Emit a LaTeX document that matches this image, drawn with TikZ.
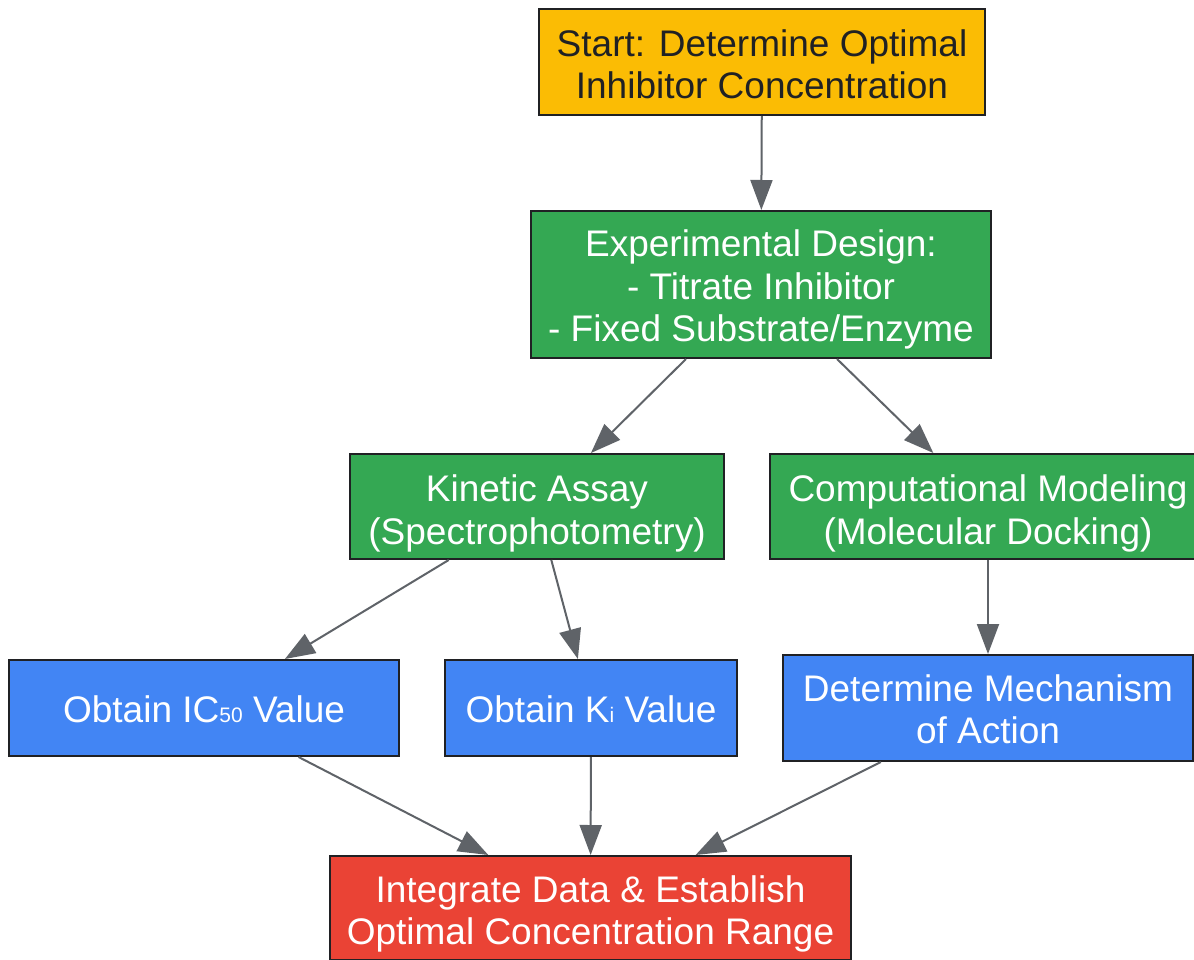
\documentclass[tikz,border=0pt]{standalone}
\usepackage{fontspec}
\setmainfont{Liberation Sans}
\usetikzlibrary{arrows.meta}
\definecolor{gyellow}{HTML}{FBBC04}
\definecolor{ggreen}{HTML}{34A853}
\definecolor{gblue}{HTML}{4285F4}
\definecolor{gred}{HTML}{EA4335}
\definecolor{gedge}{HTML}{5F6368}
\definecolor{gdark}{HTML}{202124}
\newcommand{\subtxt}[1]{{\fontsize{21}{21}\selectfont #1}}
\newcommand{\lowtxt}[2]{\raisebox{-#1}[\height][\depth]{\begin{tabular}{@{}c@{}}#2\end{tabular}}}
\begin{document}
\begin{tikzpicture}[x=1pt,y=-1pt,
  box/.style={draw=gdark, line width=2pt, inner sep=0pt, align=center,
    font=\fontsize{37}{42.5}\selectfont, text=white},
  edge/.style={draw=gedge, line width=2pt, -{Triangle[length=30pt,width=22pt]}}]
\useasboundingbox (0,0) rectangle (1194,960);
\fill[white] (0,0) rectangle (1194,960);
\node[box, fill=gyellow, text=gdark, minimum width=446pt, minimum height=106pt] (start) at (762,62) {\lowtxt{7pt}{Start: Determine Optimal\\Inhibitor Concentration}};
\node[box, fill=ggreen, minimum width=460pt, minimum height=147pt] (exp) at (761,284.5) {\lowtxt{6pt}{Experimental Design:\\- Titrate Inhibitor\\- Fixed Substrate/Enzyme}};
\node[box, fill=ggreen, minimum width=374pt, minimum height=105pt] (kin) at (537,506.5) {\lowtxt{8pt}{Kinetic Assay\\(Spectrophotometry)}};
\node[box, fill=ggreen, minimum width=436pt, minimum height=105pt] (comp) at (988,506.5) {\lowtxt{8pt}{Computational Modeling\\(Molecular Docking)}};
\node[box, fill=gblue, minimum width=390pt, minimum height=96pt] (ic) at (204,708) {\lowtxt{6pt}{Obtain IC\subtxt{50} Value}};
\node[box, fill=gblue, minimum width=292pt, minimum height=96pt] (ki) at (591,708) {\lowtxt{6pt}{Obtain K\subtxt{i} Value}};
\node[box, fill=gblue, minimum width=410pt, minimum height=106pt] (mech) at (988,708) {\lowtxt{6pt}{Determine Mechanism\\of Action}};
\node[box, fill=gred, minimum width=521pt, minimum height=104pt] (integ) at (590.5,908) {\lowtxt{7pt}{Integrate Data \& Establish\\Optimal Concentration Range}};
\draw[edge] (start) -- (exp);
\draw[edge] (exp) -- (kin);
\draw[edge] (exp) -- (comp);
\draw[edge] (kin) -- (ic);
\draw[edge] (kin) -- (ki);
\draw[edge] (comp) -- (mech);
\draw[edge] (ic) -- (integ);
\draw[edge] (ki) -- (integ);
\draw[edge] (mech) -- (integ);
\end{tikzpicture}
\end{document}
